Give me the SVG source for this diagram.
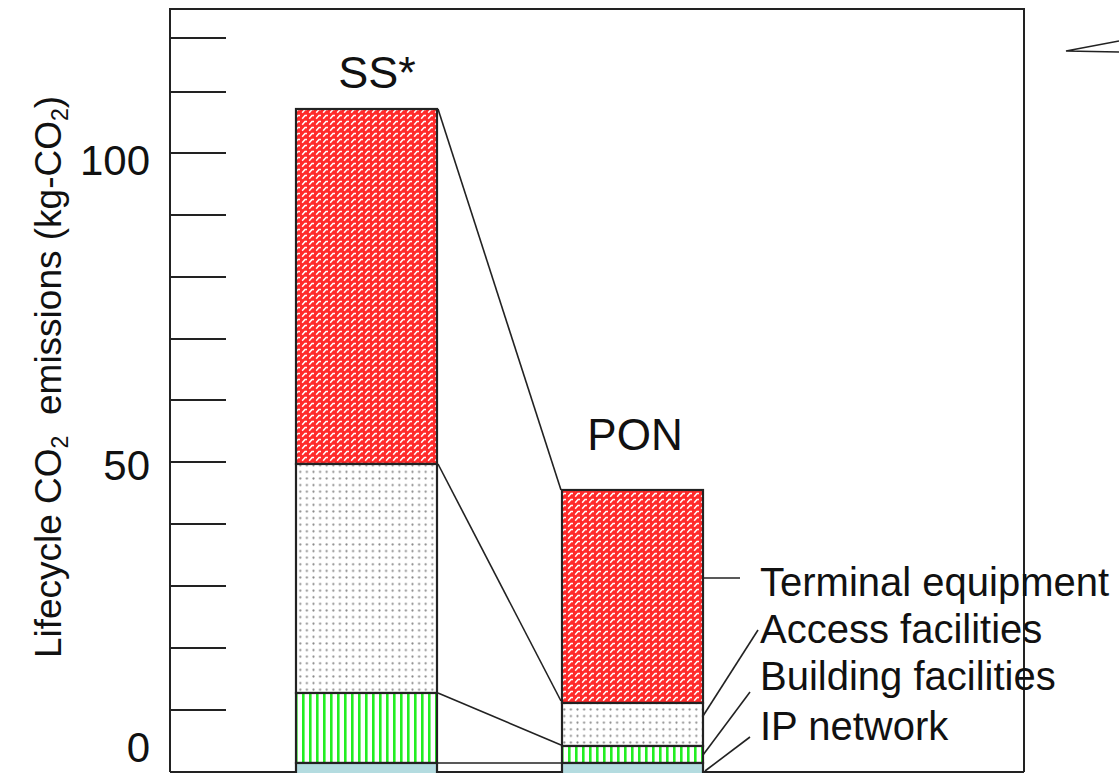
<svg xmlns="http://www.w3.org/2000/svg" width="1119" height="773" viewBox="0 0 1119 773">
<style>
.t{font-family:"Liberation Sans",Arial,sans-serif;fill:#111}
.ax{stroke:#222;stroke-width:2;fill:none}
.seg{stroke:#222;stroke-width:2.2}
.ln{stroke:#222;stroke-width:1.6;fill:none}
</style>
<defs>
<pattern id="red" width="7" height="6" patternUnits="userSpaceOnUse">
<rect width="7" height="6" fill="#ff2a2a"/>
<path d="M1.2,4.8 L4,1.5 L6,1.5" stroke="#fff" stroke-width="1.5" fill="none"/>
</pattern>
<pattern id="dots" width="6.6" height="6.6" patternUnits="userSpaceOnUse">
<rect width="6.6" height="6.6" fill="#fff"/>
<circle cx="3.3" cy="3.3" r="1.1" fill="#8a8a8a"/>
</pattern>
<pattern id="grn" width="7" height="10" patternUnits="userSpaceOnUse">
<rect width="7" height="10" fill="#fff"/>
<rect x="1" width="2.6" height="10" fill="#22ee22"/>
</pattern>
</defs>
<rect width="1119" height="773" fill="#fff"/>

<g id="axes">
<path class="ax" d="M170,772 V9 H1024 V772 M170,772 H1024"/>
<path class="ax" d="M170,38 H226 M170,92 H226 M170,153 H226 M170,215 H226 M170,277 H226 M170,339 H226 M170,400 H226 M170,462 H226 M170,524 H226 M170,586 H226 M170,648 H226 M170,710 H226"/>
<text class="t" x="150" y="175" font-size="42" text-anchor="end">100</text>
<text class="t" x="150" y="480" font-size="42" text-anchor="end">50</text>
<text class="t" x="150" y="762" font-size="42" text-anchor="end">0</text>
<text class="t" font-size="37" text-anchor="middle" transform="translate(61,377) rotate(-90)">Lifecycle CO<tspan font-size="23" dy="7">2</tspan><tspan dy="-7">&#160;&#160;emissions (kg-CO</tspan><tspan font-size="23" dy="7">2</tspan><tspan dy="-7">)</tspan></text>
</g>

<g id="wedge">
<path class="ln" d="M1119,41 L1066,51 L1119,52"/>
</g>

<g id="connectors">
<line class="ln" x1="438" y1="109" x2="561" y2="490"/>
<line class="ln" x1="438" y1="464" x2="561" y2="701"/>
<line class="ln" x1="438" y1="693" x2="561" y2="745"/>
<line class="ln" x1="438" y1="763" x2="561" y2="763"/>
<line class="ln" x1="703" y1="578" x2="740" y2="578"/>
<line class="ln" x1="703" y1="716" x2="758" y2="630"/>
<line class="ln" x1="703" y1="755" x2="750" y2="692"/>
<line class="ln" x1="705" y1="771" x2="750" y2="737"/>
</g>

<g id="bar-ss">
<rect x="296" y="109" width="141" height="355" fill="url(#red)" class="seg"/>
<rect x="296" y="464" width="141" height="229" fill="url(#dots)" class="seg"/>
<rect x="296" y="693" width="141" height="70" fill="url(#grn)" class="seg"/>
<rect x="296" y="763" width="141" height="12" fill="#b4dce0" class="seg"/>
<text class="t" x="377" y="88" font-size="45" text-anchor="middle">SS*</text>
</g>

<g id="bar-pon">
<rect x="562" y="490" width="141" height="213" fill="url(#red)" class="seg"/>
<rect x="562" y="703" width="141" height="43" fill="url(#dots)" class="seg"/>
<rect x="562" y="746" width="141" height="17" fill="url(#grn)" class="seg"/>
<rect x="562" y="763" width="141" height="12" fill="#b4dce0" class="seg"/>
<text class="t" x="635" y="450" font-size="44" text-anchor="middle">PON</text>
</g>

<g id="legend">
<text class="t" x="760" y="596" font-size="40">Terminal equipment</text>
<text class="t" x="760" y="643" font-size="40">Access facilities</text>
<text class="t" x="760" y="690" font-size="40">Building facilities</text>
<text class="t" x="760" y="740" font-size="40">IP network</text>
</g>
</svg>
